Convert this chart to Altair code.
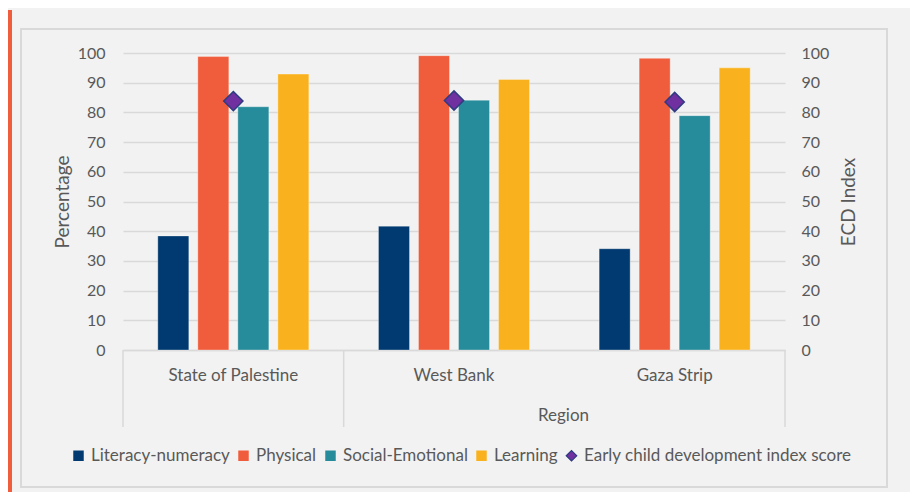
import altair as alt
import pandas as pd

# ---- data ----
regions = ["State of Palestine", "West Bank", "Gaza Strip"]
series = ["Literacy-numeracy", "Physical", "Social-Emotional", "Learning"]
literacy = [38.4, 41.7, 34.1]
physical = [98.8, 99.1, 98.2]
social = [81.9, 84.1, 78.9]
learning = [92.9, 91.1, 95.0]
index_name = "Early child development index score"
ecd_index = [83.8, 84.0, 83.5]
y_ticks = [0, 10, 20, 30, 40, 50, 60, 70, 80, 90, 100]
sep_start = ["State of Palestine", "West Bank"]
sep_end = ["Gaza Strip"]

colors = ["#003a70", "#f05d3c", "#268b9a", "#f9b21e", "#7030a0"]

rows = []
for i, r in enumerate(regions):
    for s, vals in zip(series, [literacy, physical, social, learning]):
        rows.append({"region": r, "series": s, "value": vals[i]})
bars_df = pd.DataFrame(rows)
ecd_df = pd.DataFrame({"region": regions, "series": index_name, "value": ecd_index})
one = pd.DataFrame({"k": [0]})

W, H = 662, 297
FONT = "Lato"
GREY = "#595959"
GRID = "#d9d9d9"
DIAMOND_EDGE = "#2e3b80"
legend_domain = series + [index_name]

x_scale = alt.Scale(domain=regions, paddingInner=0, paddingOuter=0)
y_scale = alt.Scale(domain=[0, 100])
color_scale = alt.Scale(domain=legend_domain, range=colors)
shape_scale = alt.Scale(domain=legend_domain, range=["square"] * 4 + ["diamond"])

legend = alt.Legend(
    orient="none", legendX=-53, legendY=394, direction="horizontal", title=None,
    labelFont=FONT, labelFontSize=17, labelColor=GREY, symbolSize=110,
    labelOffset=4, columnPadding=5, labelLimit=0,
    symbolStrokeColor=DIAMOND_EDGE,
    symbolStrokeWidth=alt.ExprRef(expr="datum.label === '" + index_name + "' ? 1.2 : 0"),
)

x_axis = alt.Axis(title="Region", titleX=440, titleY=65, titleBaseline="middle",
                  titleAlign="center", titleFont=FONT, titleFontSize=17,
                  titleFontWeight="normal", titleColor=GREY,
                  labelPadding=17, labelAngle=0, labelFont=FONT, labelFontSize=17,
                  labelColor=GREY, ticks=False, domainColor=GRID, domainWidth=1.5,
                  grid=False)

border = alt.Chart(one).mark_rect(fillOpacity=0, stroke=GRID, strokeWidth=2).encode(
    x=alt.value(-102), x2=alt.value(764), y=alt.value(-24), y2=alt.value(434)
)
stripe = alt.Chart(one).mark_rect(color="#f05d3c").encode(
    x=alt.value(-115), x2=alt.value(-111), y=alt.value(-43), y2=alt.value(440)
)

bars = alt.Chart(bars_df).mark_bar(stroke="#ffffff", strokeOpacity=0.4, strokeWidth=0.8).encode(
    x=alt.X("region:N", scale=x_scale, sort=regions, axis=x_axis),
    xOffset=alt.XOffset("series:N", sort=series,
                        scale=alt.Scale(domain=series, paddingInner=0.225, paddingOuter=0.87)),
    y=alt.Y("value:Q", scale=y_scale,
            axis=alt.Axis(orient="left", values=y_ticks, title="Percentage", titleX=-61,
                          titleY=H / 2, titleAngle=270, titleAlign="center",
                          titleBaseline="middle", titleFont=FONT, titleFontSize=19,
                          titleFontWeight="normal", titleColor=GREY,
                          labelPadding=18, labelFont=FONT, labelFontSize=16, labelColor=GREY,
                          ticks=False, domain=False, grid=True, gridColor=GRID, gridWidth=1.5)),
    color=alt.Color("series:N", scale=color_scale, legend=legend),
)

points = alt.Chart(ecd_df).mark_point(filled=True, size=370, stroke=DIAMOND_EDGE,
                                       strokeWidth=1.5, opacity=1).encode(
    x=alt.X("region:N", scale=x_scale, sort=regions, axis=x_axis),
    y=alt.Y("value:Q", scale=y_scale,
            axis=alt.Axis(orient="right", values=y_ticks, title="ECD Index", titleX=63,
                          titleY=H / 2, titleAngle=270, titleAlign="center",
                          titleBaseline="middle", titleFont=FONT, titleFontSize=19,
                          titleFontWeight="normal", titleColor=GREY,
                          labelPadding=16, labelFont=FONT, labelFontSize=16, labelColor=GREY,
                          ticks=False, domain=False, grid=False)),
    color=alt.Color("series:N", scale=color_scale, legend=legend),
    shape=alt.Shape("series:N", scale=shape_scale, legend=legend),
)

sep1 = alt.Chart(pd.DataFrame({"region": sep_start})).mark_rule(color=GRID, strokeWidth=1.5).encode(
    x=alt.X("region:N", scale=x_scale, sort=regions, bandPosition=0, axis=x_axis),
    y=alt.value(H), y2=alt.value(H + 77),
)
sep2 = alt.Chart(pd.DataFrame({"region": sep_end})).mark_rule(color=GRID, strokeWidth=1.5).encode(
    x=alt.X("region:N", scale=x_scale, sort=regions, bandPosition=1, axis=x_axis),
    y=alt.value(H), y2=alt.value(H + 77),
)

chart = alt.layer(border, stripe, bars, sep1, sep2, points).resolve_scale(
    y="independent"
).properties(
    width=W, height=H,
    autosize=alt.AutoSizeParams(type="none"),
    padding={"left": 115, "top": 45, "right": 125, "bottom": 142},
    background="#f2f2f2",
).configure_view(strokeWidth=0)

chart.save("out.html", embed_options={"renderer": "svg", "actions": False})
